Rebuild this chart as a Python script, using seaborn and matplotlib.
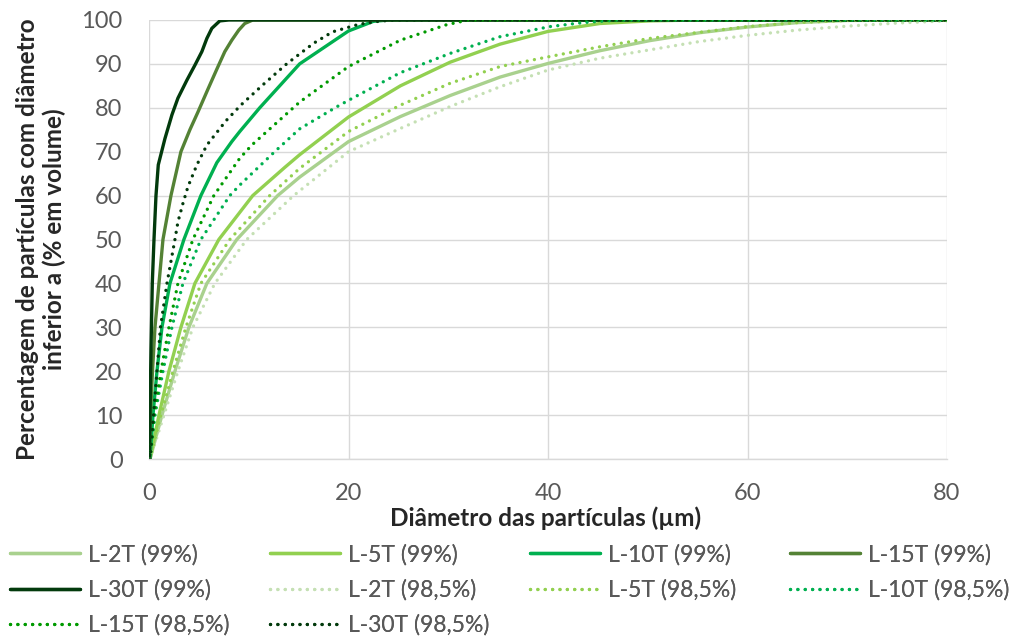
import matplotlib
matplotlib.use("Agg")
import matplotlib.pyplot as plt
import seaborn as sns
import pandas as pd

# Cumulative particle size distributions (diameter in µm, % volume finer than)
l2t_99_x = [0.1, 1.3, 2.6, 4.0, 5.8, 8.8, 12.9, 15.1, 20, 25.2, 30.2, 35.2, 40, 45.2, 50.2, 55.2, 60, 65, 70, 80]
l2t_99_y = [0, 10, 20, 30, 40, 50, 60, 64.2, 72.3, 78.0, 82.8, 87.0, 90.1, 93.0, 95.3, 97.1, 98.4, 99.4, 99.9, 100]

l5t_99_x = [0.1, 1.0, 2.0, 3.2, 4.6, 7.0, 10.4, 13.6, 15.1, 20, 25.2, 30.2, 35.2, 40, 45.2, 50.2, 55, 80]
l5t_99_y = [0, 10, 20, 30, 40, 50, 60, 66.4, 69.3, 77.9, 85, 90.4, 94.5, 97.4, 99.2, 99.8, 100, 100]

l10t_99_x = [0.1, 0.4, 0.8, 1.3, 2.1, 3.5, 5.2, 6.8, 8.3, 9.1, 11.1, 15.1, 20, 22.5, 24, 80]
l10t_99_y = [0, 10, 20, 30, 40, 50, 60, 67.5, 72.3, 74.6, 80, 90, 97.5, 99.7, 100, 100]

l15t_99_x = [0.05, 0.15, 0.35, 0.6, 1.0, 1.4, 2.2, 3.2, 4.1, 4.9, 5.9, 6.8, 7.6, 8.3, 9.0, 9.6, 10.4, 80]
l15t_99_y = [0, 10, 20, 30, 40, 50, 60, 70, 75, 79, 84.2, 88.8, 92.8, 95.4, 97.7, 99.2, 100, 100]

l30t_99_x = [0.05, 0.1, 0.2, 0.33, 0.5, 0.7, 0.93, 1.6, 2.3, 2.9, 3.8, 4.6, 5.3, 5.8, 6.3, 7.1, 8, 80]
l30t_99_y = [0, 10, 25, 40, 50, 60, 67, 73, 78.4, 82.2, 86.3, 89.7, 92.8, 95.8, 98.1, 99.8, 100, 100]

l2t_985_x = [0.1, 1.5, 2.9, 4.4, 6.6, 9.8, 14.5, 20, 25.2, 30.2, 35.2, 40, 45.2, 50.2, 55.2, 60, 65, 70, 75, 80]
l2t_985_y = [0, 10, 20, 30, 40, 50, 60, 70, 75.3, 80.3, 84.8, 88.6, 91.3, 93.2, 95.1, 96.5, 97.7, 98.6, 99.3, 99.8]

l5t_985_x = [0.1, 1.2, 2.4, 3.7, 5.2, 8.1, 12.1, 15.1, 20, 25.2, 30.2, 35.2, 40, 45.2, 50.2, 55.2, 60, 65, 70, 80]
l5t_985_y = [0, 10, 20, 30, 40, 50, 60, 66.2, 74.6, 80.6, 85.6, 89.4, 91.6, 93.9, 95.8, 97.2, 98.5, 99.4, 99.9, 100]

l10t_985_x = [0.1, 0.6, 1.4, 2.3, 3.4, 5.2, 8.1, 9.1, 12.6, 15.1, 18.8, 20, 25.2, 30.2, 35.2, 40.2, 43.5, 47, 80]
l10t_985_y = [0, 10, 20, 30, 40, 50, 60, 62.4, 70, 75.2, 80.2, 81.7, 88.0, 92.4, 96.2, 98.5, 99.4, 100, 100]

l15t_985_x = [0.1, 0.5, 1.2, 2.0, 2.9, 4.4, 6.5, 9.1, 10.3, 15.1, 20, 25.2, 29.8, 32, 80]
l15t_985_y = [0, 10, 20, 30, 40, 50, 60, 68.5, 71.5, 81.3, 89.4, 95.4, 98.9, 100, 100]

l30t_985_x = [0.1, 0.45, 0.8, 1.15, 1.8, 2.6, 2.9, 3.4, 3.9, 4.8, 5.8, 7.7, 9.2, 11.5, 13.8, 16.5, 18.4, 21, 23, 24.5, 80]
l30t_985_y = [0, 10, 20, 30, 40, 50, 54, 58.2, 62, 67, 71.5, 77, 80.6, 85.4, 90, 94.7, 97.3, 99, 99.7, 100, 100]

labels = ["L-2T (99%)", "L-5T (99%)", "L-10T (99%)", "L-15T (99%)", "L-30T (99%)",
          "L-2T (98,5%)", "L-5T (98,5%)", "L-10T (98,5%)", "L-15T (98,5%)", "L-30T (98,5%)"]
series = [(l2t_99_x, l2t_99_y), (l5t_99_x, l5t_99_y), (l10t_99_x, l10t_99_y),
          (l15t_99_x, l15t_99_y), (l30t_99_x, l30t_99_y),
          (l2t_985_x, l2t_985_y), (l5t_985_x, l5t_985_y), (l10t_985_x, l10t_985_y),
          (l15t_985_x, l15t_985_y), (l30t_985_x, l30t_985_y)]
colors = ["#A9D18E", "#92D050", "#00B050", "#548235", "#023A0C",
          "#C5E0B4", "#92D050", "#00B050", "#009A00", "#023A0C"]
styles = ["solid"] * 5 + ["dotted"] * 5

x_ticks = [0, 20, 40, 60, 80]
y_ticks = list(range(0, 101, 10))

sns.set_theme(style="white")
plt.rcParams["font.family"] = ["Lato", "DejaVu Sans"]
plt.rcParams["lines.dash_capstyle"] = "round"
plt.rcParams["lines.solid_capstyle"] = "round"

W, H = 1017, 637
fig = plt.figure(figsize=(W / 100, H / 100), dpi=100)
ax = fig.add_axes([149 / W, 1 - 459 / H, 798 / W, 439 / H])

dot = (0, (0.01, 2.2))
for (xs, ys), lab, col, st in zip(series, labels, colors, styles):
    df = pd.DataFrame({"d": xs, "p": ys})
    ls = "-" if st == "solid" else dot
    sns.lineplot(data=df, x="d", y="p", ax=ax, color=col, linewidth=2.4,
                 linestyle=ls, label=lab, sort=False, estimator=None, legend=False)

ax.set_xlim(0, 80)
ax.set_ylim(0, 100)
ax.set_xticks(x_ticks)
ax.set_yticks(y_ticks)
ax.grid(True, color="#D9D9D9", linewidth=1.0)
ax.set_axisbelow(True)
for side in ["top", "right", "left"]:
    ax.spines[side].set_visible(False)
ax.spines["bottom"].set_color("#D9D9D9")
ax.spines["bottom"].set_linewidth(1.0)
ax.tick_params(axis="both", length=0, labelsize=17, colors="#595959")
ax.tick_params(axis="y", pad=19)
ax.tick_params(axis="x", pad=17)

ax.set_xlabel("Diâmetro das partículas (µm)", fontsize=17.5, fontweight="bold",
              color="#262626", va="center")
ax.xaxis.set_label_coords(0.497, (459 - 518) / 439)
ax.set_ylabel("Percentagem de partículas com diâmetro\ninferior a (% em volume)",
              fontsize=17.5, fontweight="bold", color="#262626", va="center",
              linespacing=1.2)
ax.yaxis.set_label_coords((41 - 149) / 798, 0.5)

handles = ax.get_lines()
# Four legend columns on a fixed pitch, filled row by row
columns = [[0, 4, 8], [1, 5, 9], [2, 6], [3, 7]]
col_x = [10, 270, 530, 790]
for idx, cx in zip(columns, col_x):
    leg = fig.legend([handles[i] for i in idx], [labels[i] for i in idx],
                     loc="upper left", bbox_to_anchor=(cx / W, 1 - 544 / H),
                     frameon=False, fontsize=16.5, handlelength=3.05,
                     handletextpad=0.35, labelspacing=0.6, borderpad=0,
                     borderaxespad=0, labelcolor="#595959")
    fig.add_artist(leg)

fig.savefig("out.png", dpi=100)
